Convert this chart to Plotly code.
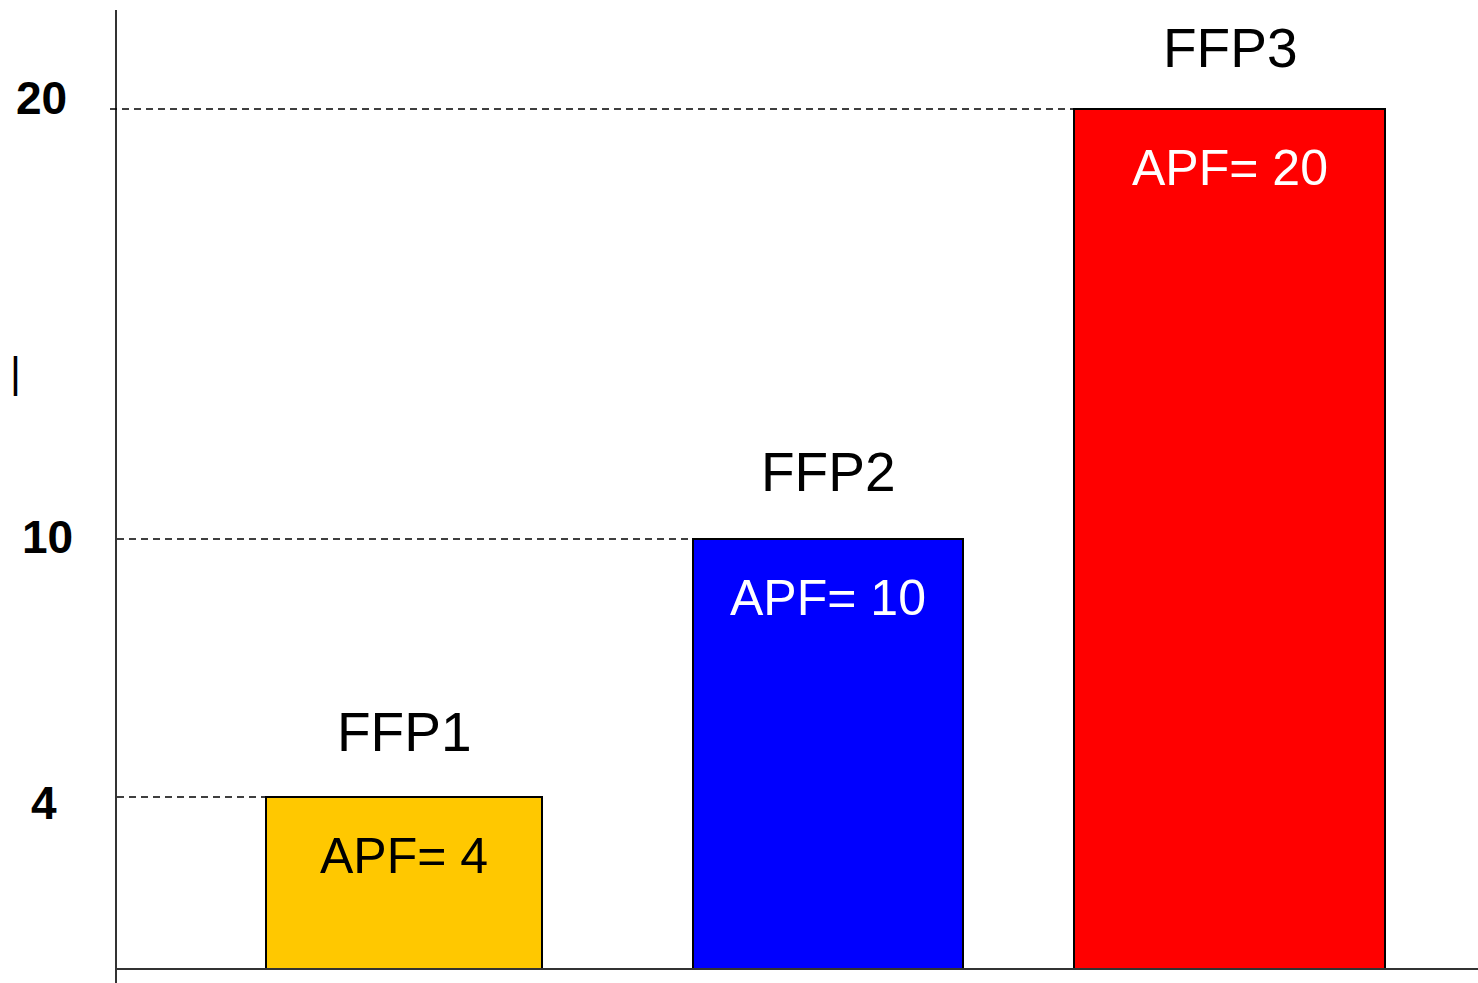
import plotly.graph_objects as go

# ---- data ----
categories = ["FFP1", "FFP2", "FFP3"]
apf_values = [4, 10, 20]
apf_labels = ["APF= 4", "APF= 10", "APF= 20"]
tick_values = [4, 10, 20]
tick_labels = ["4", "10", "20"]

# ---- layout / style constants ----
W, H = 1478, 983
bar_centers = [404, 828, 1229.5]
bar_widths = [276, 270, 311]
bar_colors = ["#FFC800", "#0000FF", "#FF0000"]
apf_text_colors = ["#000000", "#FFFFFF", "#FFFFFF"]
tick_label_x = [44, 47, 41]
tick_label_shift = [-6, 2, 11]
label_shift = [65, 67, 61]
dash_start_x = [117, 117, 110]
axis_x = 116
FONT = "Liberation Sans, Arial, sans-serif"

# y scale: value 0 at pixel 969, 43 px per unit
k = 43.0
base_px = 969.0
y_top = base_px / k
y_bot = -(H - base_px) / k

fig = go.Figure()
fig.add_trace(go.Bar(
    x=bar_centers, y=apf_values, width=bar_widths,
    marker=dict(color=bar_colors, line=dict(color="#000000", width=2)),
    hoverinfo="skip", showlegend=False,
))

shapes = []
# y axis line
shapes.append(dict(type="line", xref="x", yref="paper", x0=axis_x, x1=axis_x,
                   y0=0, y1=1 - 10 / H, line=dict(color="#333333", width=2)))
# x axis line
shapes.append(dict(type="line", xref="x", yref="y", x0=117, x1=W, y0=0, y1=0,
                   line=dict(color="#333333", width=2)))
# dashed guide lines from axis to bar left edge
for v, c, w, xs in zip(apf_values, bar_centers, bar_widths, dash_start_x):
    shapes.append(dict(type="line", xref="x", yref="y", x0=xs, x1=c - w / 2,
                       y0=v, y1=v, line=dict(color="#000000", width=1.5, dash="7px,5px")))

annotations = []
for cat, v, c, lab, tc, ls in zip(categories, apf_values, bar_centers, apf_labels,
                                  apf_text_colors, label_shift):
    annotations.append(dict(x=c, y=v, xref="x", yref="y", text=cat, showarrow=False,
                            yanchor="middle", yshift=ls,
                            font=dict(family=FONT, size=55, color="#000000")))
    annotations.append(dict(x=c, y=v, xref="x", yref="y", text=lab, showarrow=False,
                            yanchor="middle", yshift=-59,
                            font=dict(family=FONT, size=50, color=tc)))
for tv, tl, tx, ts in zip(tick_values, tick_labels, tick_label_x, tick_label_shift):
    annotations.append(dict(x=tx, y=tv, xref="x", yref="y", text="<b>" + tl + "</b>",
                            showarrow=False, yanchor="middle", yshift=ts,
                            font=dict(family=FONT, size=46, color="#000000")))
# small stray vertical mark on the left
annotations.append(dict(x=15, y=1 - 373 / H, xref="x", yref="paper", text="|",
                        showarrow=False, yanchor="middle",
                        font=dict(family=FONT, size=42, color="#000000")))

fig.update_layout(
    width=W, height=H,
    margin=dict(l=0, r=0, t=0, b=0),
    paper_bgcolor="white", plot_bgcolor="white",
    xaxis=dict(range=[0, W], visible=False, fixedrange=True),
    yaxis=dict(range=[y_bot, y_top], visible=False, fixedrange=True),
    shapes=shapes, annotations=annotations,
    bargap=0,
)

fig.write_html("out.html", config={"displayModeBar": False},
               post_script="document.body.style.margin='0';document.body.style.overflow='hidden';")
